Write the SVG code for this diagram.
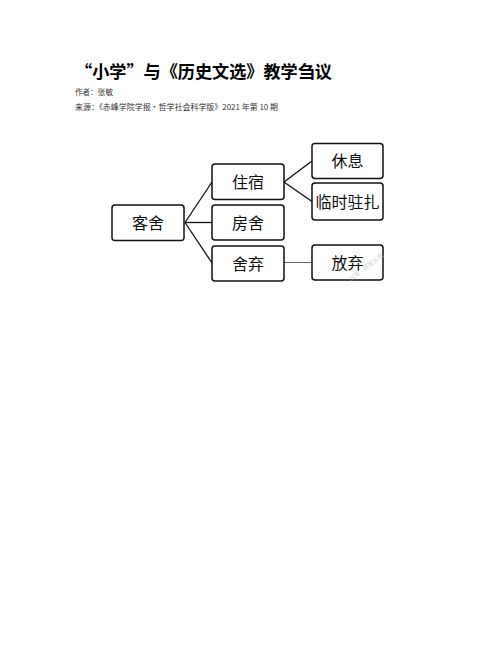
<svg xmlns="http://www.w3.org/2000/svg" width="502" height="649" viewBox="0 0 502 649">
<style>
.hd{font-family:"Noto Sans CJK SC","Liberation Sans",sans-serif;}
.title{font-size:17px;font-weight:bold;fill:#000;}
.meta{font-size:7.5px;fill:#333;}
.box{fill:#fff;stroke:#111;stroke-width:1.5;}
.lbl{font-family:"Noto Sans CJK SC","Liberation Sans",sans-serif;font-size:16px;fill:#111;text-anchor:middle;}
.ln{stroke:#111;stroke-width:1.3;fill:none;}
.wm{font-family:"Noto Sans CJK SC",sans-serif;font-size:6px;fill:#d4d4d4;}
</style>
<rect width="502" height="649" fill="#fff"/>
<text class="hd title" x="75" y="78" textLength="257" lengthAdjust="spacingAndGlyphs">“小学”与《历史文选》教学刍议</text>
<text class="hd meta" x="75" y="95" textLength="38" lengthAdjust="spacingAndGlyphs">作者：张敏</text>
<text class="hd meta" x="75" y="110" textLength="203" lengthAdjust="spacingAndGlyphs">来源：《赤峰学院学报·哲学社会科学版》2021 年第 10 期</text>
<g id="connectors">
<line class="ln" x1="185" y1="222.5" x2="212" y2="182"/>
<line class="ln" x1="185" y1="222.5" x2="212" y2="222.5"/>
<line class="ln" x1="185" y1="222.5" x2="212" y2="263"/>
<line class="ln" x1="284" y1="182" x2="312" y2="161"/>
<line class="ln" x1="284" y1="182" x2="312" y2="201.5"/>
<line x1="284" y1="262.5" x2="312" y2="262.5" stroke="#666" stroke-width="1"/>
</g>
<g id="n-keshe"><rect class="box" x="112" y="205" width="72" height="35.5" rx="3"/><text class="lbl" x="148" y="229">客舍</text></g>
<g id="n-zhusu"><rect class="box" x="212" y="164" width="72" height="35.5" rx="3"/><text class="lbl" x="248" y="188">住宿</text></g>
<g id="n-fangshe"><rect class="box" x="212" y="205" width="72" height="35" rx="3"/><text class="lbl" x="248" y="228.5">房舍</text></g>
<g id="n-sheqi"><rect class="box" x="212" y="246" width="72" height="35" rx="3"/><text class="lbl" x="248" y="269.5">舍弃</text></g>
<g id="n-xiuxi"><rect class="box" x="312" y="143.5" width="71" height="35" rx="3"/><text class="lbl" x="347.5" y="167">休息</text></g>
<g id="n-linshi"><rect class="box" x="312" y="183" width="71" height="37" rx="3"/><text class="lbl" x="347.5" y="207.5">临时驻扎</text></g>
<g id="n-fangqi"><rect class="box" x="312" y="245" width="71" height="35" rx="3"/><text class="lbl" x="347.5" y="268.5">放弃</text></g>
<text class="wm" transform="translate(351,281) rotate(-37)">文库 - 百度文库</text>
</svg>
